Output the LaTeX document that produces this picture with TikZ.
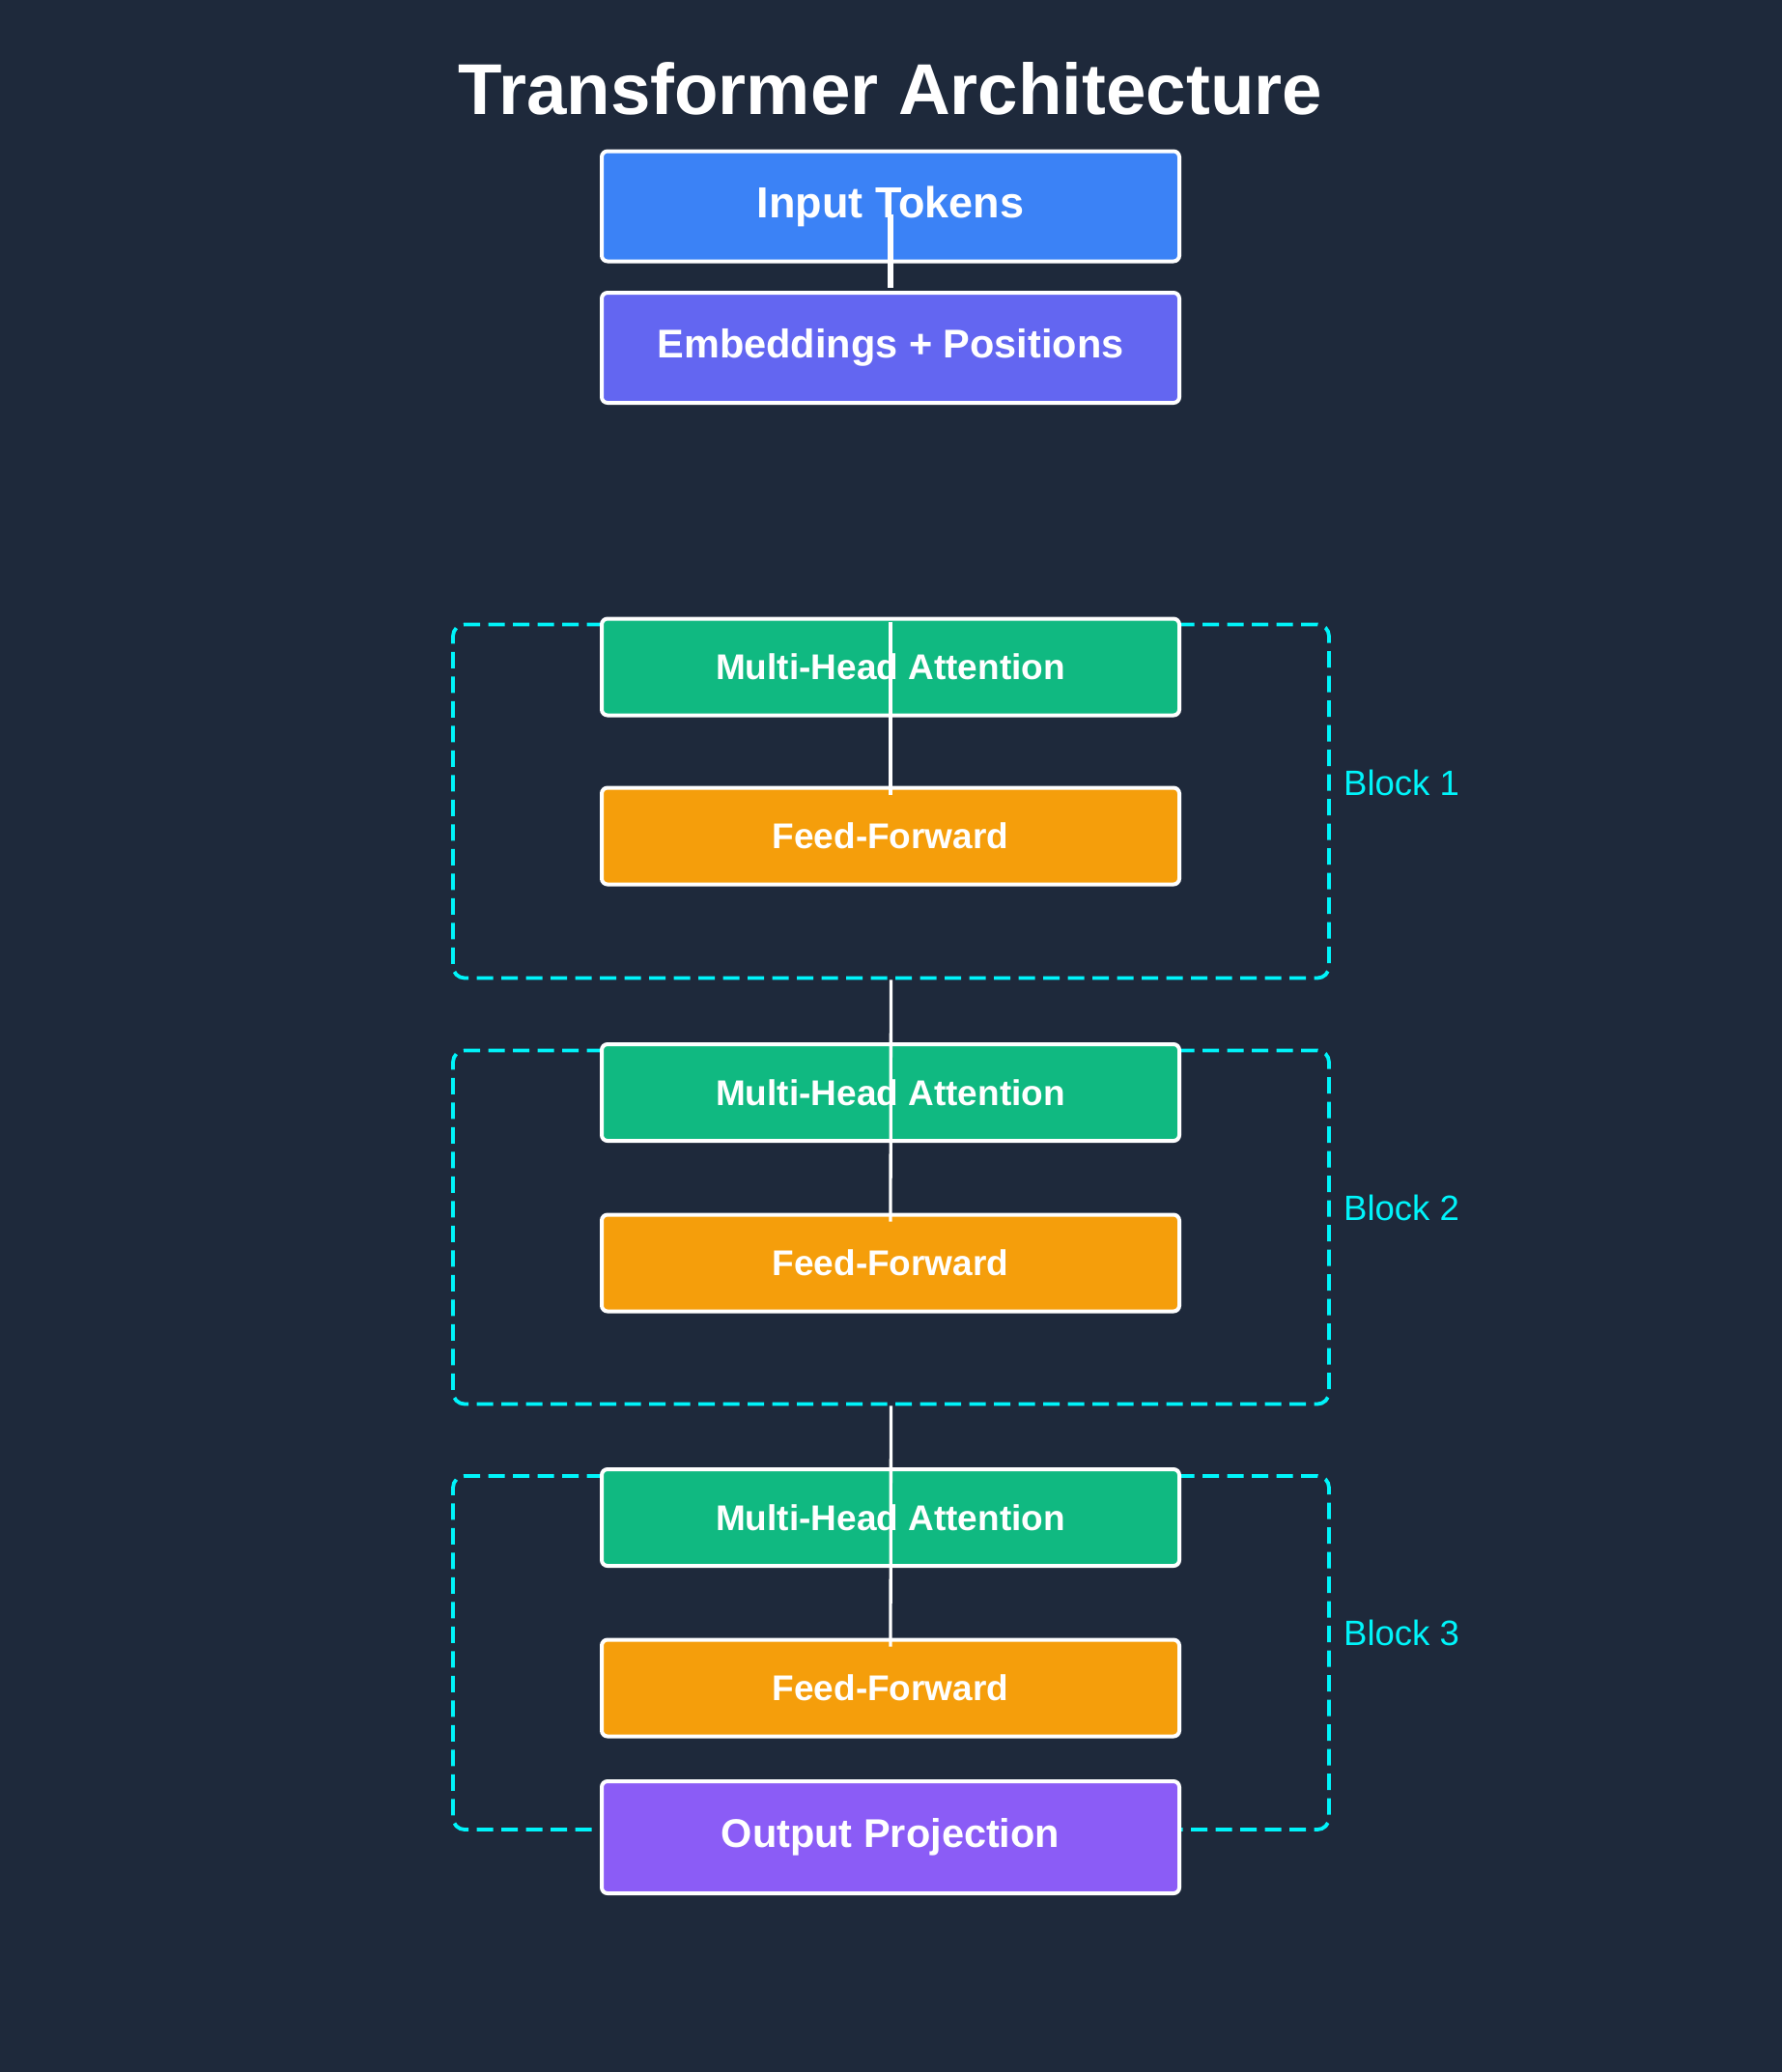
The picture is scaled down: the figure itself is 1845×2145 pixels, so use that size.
\documentclass[tikz,border=0pt]{standalone}
\usepackage{fontspec}
\setmainfont{Liberation Sans}
\usetikzlibrary{calc}
\definecolor{bg}{HTML}{1E293B}
\definecolor{cIn}{HTML}{3B82F6}
\definecolor{cEmb}{HTML}{6366F1}
\definecolor{cMha}{HTML}{10B981}
\definecolor{cFf}{HTML}{F59E0B}
\definecolor{cOut}{HTML}{8B5CF6}
\definecolor{cCyan}{HTML}{00F4FA}
\tikzset{
  box/.style={draw=white, line width=4pt, rounded corners=6pt, minimum width=598pt, text=white, font=\bfseries, inner sep=0pt},
  bigbox/.style={box, minimum height=114pt},
  smallbox/.style={box, minimum height=100pt, font=\bfseries\fontsize{37}{44}\selectfont},
  blockbox/.style={draw=cCyan, line width=3.8pt, dash pattern=on 17pt off 8.5pt, rounded corners=12pt, minimum width=907pt, minimum height=366pt, inner sep=0pt},
  blocklabel/.style={text=cCyan, font=\fontsize{36.5}{43}\selectfont, anchor=west, inner sep=0pt},
  link/.style={draw=white, line width=3.3pt},
}
\begin{document}
\begin{tikzpicture}[x=1pt, y=-1pt]
  \fill[bg] (0,0) rectangle (1845,2145);
  \useasboundingbox (0,0) rectangle (1845,2145);

  \node[text=white, font=\bfseries\fontsize{74.5}{88}\selectfont, anchor=base, inner sep=0pt] (title) at (922,118) {Transformer Architecture};

  % blocks (behind)
  \node[blockbox] (block1) at (922.5,829.5) {};
  \node[blockbox] (block2) at (922.5,1270.5) {};
  \node[blockbox] (block3) at (922.5,1711) {};

  % boxes
  \node[bigbox, fill=cIn, font=\bfseries\fontsize{45}{54}\selectfont] (in) at (922,213.5) {Input Tokens};
  \node[bigbox, fill=cEmb, font=\bfseries\fontsize{41.5}{50}\selectfont] (emb) at (922,360) {Embeddings + Positions};

  \node[smallbox, fill=cMha] (mha1) at (922,690.5) {Multi-Head Attention};
  \node[smallbox, fill=cFf] (ff1) at (922,865.5) {Feed-Forward};
  \node[smallbox, fill=cMha] (mha2) at (922,1131) {Multi-Head Attention};
  \node[smallbox, fill=cFf] (ff2) at (922,1307.5) {Feed-Forward};
  \node[smallbox, fill=cMha] (mha3) at (922,1571) {Multi-Head Attention};
  \node[smallbox, fill=cFf] (ff3) at (922,1747.5) {Feed-Forward};

  \node[bigbox, minimum height=116pt, fill=cOut, font=\bfseries\fontsize{41.5}{50}\selectfont] (out) at (922,1902) {Output Projection};

  % labels
  \node[blocklabel] (lab1) at (1391,810) {Block 1};
  \node[blocklabel] (lab2) at (1391,1250) {Block 2};
  \node[blocklabel] (lab3) at (1391,1690) {Block 3};

  % connectors
  \draw[link, line width=6pt] ([yshift=-8pt]in.center) -- ([yshift=3pt]emb.north);
  \draw[link] ([yshift=-5pt]mha1.north) -- ([yshift=-9pt]ff1.north);
  \draw[link] (block1.south) -- ([yshift=-9pt]ff2.north);
  \draw[link] (block2.south) -- ([yshift=-9pt]ff3.north);
\end{tikzpicture}
\end{document}
